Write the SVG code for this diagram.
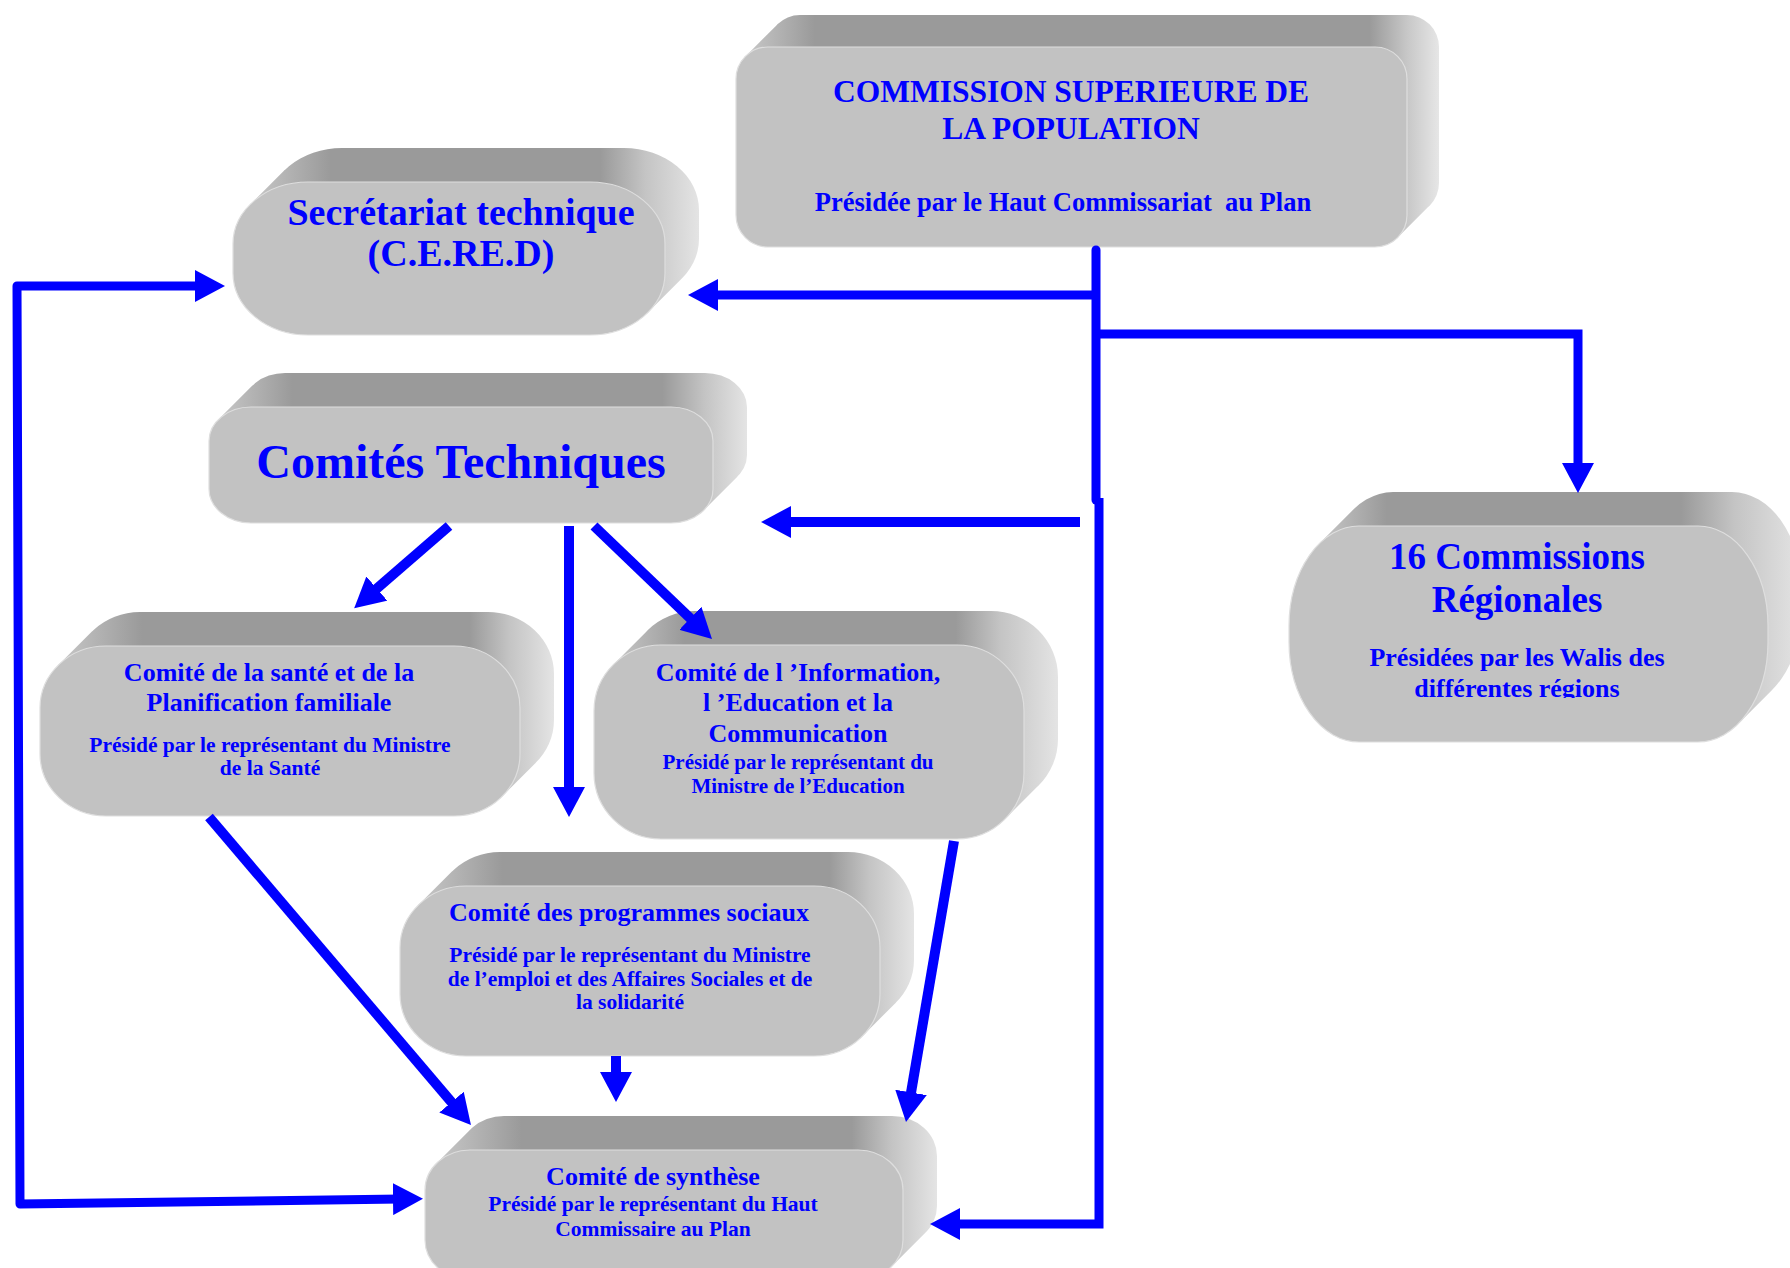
<svg xmlns="http://www.w3.org/2000/svg" width="1790" height="1268" viewBox="0 0 1790 1268">
<style>
.face{fill:#c2c2c2;stroke:#dedede;stroke-width:1.2}
.t{fill:#0000ff;font-family:"Liberation Serif","Times New Roman",serif;font-weight:bold;text-anchor:middle}
.ln{fill:none;stroke:#0000ff;stroke-width:9}
.ln2{fill:none;stroke:#0000ff;stroke-width:10}
</style>
<defs>
<linearGradient id="gCSP" x1="0" y1="0" x2="1" y2="0"><stop offset="0" stop-color="#c8c8c8"/><stop offset="0.1" stop-color="#9a9a9a"/><stop offset="0.9" stop-color="#9a9a9a"/><stop offset="0.955" stop-color="#c8c8c8"/><stop offset="1" stop-color="#e6e6e6"/></linearGradient>
<linearGradient id="gSec" x1="0" y1="0" x2="1" y2="0"><stop offset="0" stop-color="#c8c8c8"/><stop offset="0.18" stop-color="#9a9a9a"/><stop offset="0.78" stop-color="#9a9a9a"/><stop offset="0.88" stop-color="#c4c4c4"/><stop offset="1" stop-color="#e4e4e4"/></linearGradient>
<linearGradient id="gCom" x1="0" y1="0" x2="1" y2="0"><stop offset="0" stop-color="#c8c8c8"/><stop offset="0.14" stop-color="#9a9a9a"/><stop offset="0.84" stop-color="#9a9a9a"/><stop offset="0.92" stop-color="#c4c4c4"/><stop offset="1" stop-color="#e4e4e4"/></linearGradient>
<linearGradient id="gSan" x1="0" y1="0" x2="1" y2="0"><stop offset="0" stop-color="#c8c8c8"/><stop offset="0.17" stop-color="#9a9a9a"/><stop offset="0.83" stop-color="#9a9a9a"/><stop offset="0.91" stop-color="#c4c4c4"/><stop offset="1" stop-color="#e4e4e4"/></linearGradient>
<linearGradient id="gInf" x1="0" y1="0" x2="1" y2="0"><stop offset="0" stop-color="#c8c8c8"/><stop offset="0.16" stop-color="#9a9a9a"/><stop offset="0.77" stop-color="#9a9a9a"/><stop offset="0.87" stop-color="#c4c4c4"/><stop offset="1" stop-color="#e4e4e4"/></linearGradient>
<linearGradient id="gReg" x1="0" y1="0" x2="1" y2="0"><stop offset="0" stop-color="#c8c8c8"/><stop offset="0.14" stop-color="#9a9a9a"/><stop offset="0.75" stop-color="#9a9a9a"/><stop offset="0.86" stop-color="#c4c4c4"/><stop offset="1" stop-color="#e4e4e4"/></linearGradient>
<marker id="arr" viewBox="0 0 30 32" refX="8" refY="16" markerWidth="30" markerHeight="32" markerUnits="userSpaceOnUse" orient="auto-start-reverse"><path d="M0,0 L30,16 L0,32 Z" fill="#0000ff"/></marker>
<clipPath id="clipReg"><rect x="1280" y="640" width="510" height="58"/></clipPath>
</defs>

<g id="node-csp">
<path fill="url(#gCSP)" d="M800,15 H1407 A32,32 0 0 1 1439,47 V183 A32,32 0 0 1 1407,215 H800 A32,32 0 0 1 768,183 V47 A32,32 0 0 1 800,15 Z M745.4,56.4 L777.4,24.4 L1429.6,205.6 L1397.6,237.6 Z"/>
<rect class="face" x="736" y="47" width="671" height="200" rx="32"/>
<text class="t" x="1071" y="102" font-size="31.5">COMMISSION SUPERIEURE DE</text>
<text class="t" x="1071" y="139" font-size="31.5">LA POPULATION</text>
<text class="t" x="1063" y="211" font-size="26.5" style="white-space:pre">Présidée par le Haut Commissariat  au Plan</text>
</g>

<g id="node-secretariat">
<path fill="url(#gSec)" d="M342,148 H624 A75,62 0 0 1 699,210 V239 A75,62 0 0 1 624,301 H342 A75,62 0 0 1 267,239 V210 A75,62 0 0 1 342,148 Z M250.2,204.5 L284.2,170.5 L681.8,278.5 L647.8,312.5 Z"/>
<rect class="face" x="233" y="182" width="432" height="153" rx="75" ry="62"/>
<text class="t" x="461" y="225" font-size="38">Secrétariat technique</text>
<text class="t" x="461" y="266" font-size="38">(C.E.RE.D)</text>
</g>

<g id="node-comites">
<path fill="url(#gCom)" d="M285,373 H705 A42,34 0 0 1 747,407 V455 A42,34 0 0 1 705,489 H285 A42,34 0 0 1 243,455 V407 A42,34 0 0 1 285,373 Z M218.4,419.6 L252.4,385.6 L737.6,476.4 L703.6,510.4 Z"/>
<rect class="face" x="209" y="407" width="504" height="116" rx="42" ry="34"/>
<text class="t" x="461" y="478" font-size="48">Comités Techniques</text>
</g>

<g id="node-sante">
<path fill="url(#gSan)" d="M140,612 H488 A66,62 0 0 1 554,674 V720 A66,62 0 0 1 488,782 H140 A66,62 0 0 1 74,720 V674 A66,62 0 0 1 140,612 Z M57.9,665.6 L91.9,631.6 L536.1,762.4 L502.1,796.4 Z"/>
<rect class="face" x="40" y="646" width="480" height="170" rx="66" ry="62"/>
<text class="t" x="269" y="681" font-size="26">Comité de la santé et de la</text>
<text class="t" x="269" y="711" font-size="26">Planification familiale</text>
<text class="t" x="270" y="752" font-size="21.5">Présidé par le représentant du Ministre</text>
<text class="t" x="270" y="775" font-size="21.5">de la Santé</text>
</g>

<g id="node-information">
<path fill="url(#gInf)" d="M695,611 H991 A67,66 0 0 1 1058,677 V739 A67,66 0 0 1 991,805 H695 A67,66 0 0 1 628,739 V677 A67,66 0 0 1 695,611 Z M613.3,664.7 L647.3,630.7 L1038.7,785.3 L1004.7,819.3 Z"/>
<rect class="face" x="594" y="645" width="430" height="194" rx="67" ry="66"/>
<text class="t" x="798" y="681" font-size="26">Comité de l ’Information,</text>
<text class="t" x="798" y="711" font-size="26">l ’Education et la</text>
<text class="t" x="798" y="742" font-size="26">Communication</text>
<text class="t" x="798" y="769" font-size="21">Présidé par le représentant du</text>
<text class="t" x="798" y="793" font-size="21">Ministre de l’Education</text>
</g>

<g id="node-regionales">
<path fill="url(#gReg)" d="M1393,492 H1732 A70,100 0 0 1 1802,592 V608 A70,100 0 0 1 1732,708 H1393 A70,100 0 0 1 1323,608 V592 A70,100 0 0 1 1393,492 Z M1318.9,544.1 L1352.9,510.1 L1772.1,689.9 L1738.1,723.9 Z"/>
<rect class="face" x="1289" y="526" width="479" height="216" rx="70" ry="100"/>
<text class="t" x="1517" y="569" font-size="37">16 Commissions</text>
<text class="t" x="1517" y="612" font-size="37">Régionales</text>
<text class="t" x="1517" y="666" font-size="26">Présidées par les Walis des</text>
<text class="t" x="1517" y="697" font-size="26" clip-path="url(#clipReg)">différentes régions</text>
</g>

<g id="node-programmes">
<path fill="url(#gSan)" d="M500,852 H848 A66,62 0 0 1 914,914 V960 A66,62 0 0 1 848,1022 H500 A66,62 0 0 1 434,960 V914 A66,62 0 0 1 500,852 Z M417.9,905.6 L451.9,871.6 L896.1,1002.4 L862.1,1036.4 Z"/>
<rect class="face" x="400" y="886" width="480" height="170" rx="66" ry="62"/>
<text class="t" x="629" y="921" font-size="26">Comité des programmes sociaux</text>
<text class="t" x="630" y="962" font-size="21.5">Présidé par le représentant du Ministre</text>
<text class="t" x="630" y="986" font-size="21.5">de l’emploi et des Affaires Sociales et de</text>
<text class="t" x="630" y="1009" font-size="21.5">la solidarité</text>
</g>

<g id="node-synthese">
<path fill="url(#gSan)" d="M504,1116 H892 A45,40 0 0 1 937,1156 V1206 A45,40 0 0 1 892,1246 H504 A45,40 0 0 1 459,1206 V1156 A45,40 0 0 1 504,1116 Z M436.4,1163.4 L470.4,1129.4 L925.6,1232.6 L891.6,1266.6 Z"/>
<rect class="face" x="425" y="1150" width="478" height="130" rx="45" ry="40"/>
<text class="t" x="653" y="1185" font-size="26">Comité de synthèse</text>
<text class="t" x="653" y="1211" font-size="21.5">Présidé par le représentant du Haut</text>
<text class="t" x="653" y="1236" font-size="21.5">Commissaire au Plan</text>
</g>

<g id="connectors">
<path class="ln" stroke-linejoin="round" d="M401,1199 L20,1204 L17,286 L203,286" marker-start="url(#arr)" marker-end="url(#arr)"/>
<path class="ln" stroke-linecap="round" d="M1096,250 V500"/>
<path class="ln" d="M1099,498 V1224 H952" marker-end="url(#arr)"/>
<path class="ln" d="M1096,295 H710" marker-end="url(#arr)"/>
<path class="ln" d="M1096,334 H1578 V471" marker-end="url(#arr)"/>
<path class="ln2" d="M1080,522 H783" marker-end="url(#arr)"/>
<path class="ln2" d="M449,526 L370.8,593.8" marker-end="url(#arr)"/>
<path class="ln2" d="M569,526 V795" marker-end="url(#arr)"/>
<path class="ln2" d="M594,526 L696.1,623.8" marker-end="url(#arr)"/>
<path class="ln2" d="M209,817 L456.7,1108.2" marker-end="url(#arr)"/>
<path class="ln2" d="M616,1056 V1080" marker-end="url(#arr)"/>
<path class="ln2" d="M954,841 L909.7,1100.3" marker-end="url(#arr)"/>
</g>
</svg>
